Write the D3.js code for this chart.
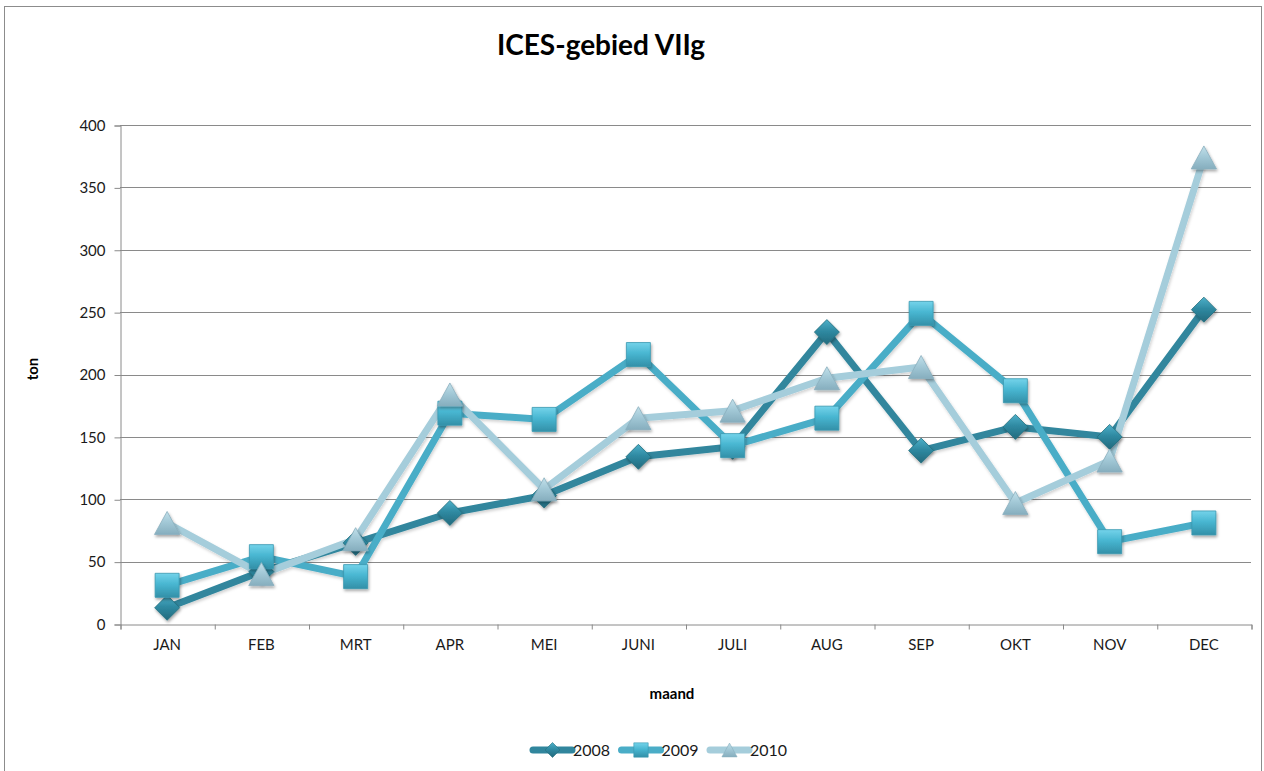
<!DOCTYPE html>
<html>
<head>
<meta charset="utf-8">
<script src="https://cdn.jsdelivr.net/npm/d3@7"></script>
<style>
  html, body { margin: 0; padding: 0; background: #ffffff; }
  svg { display: block; font-family: Lato, "Open Sans", sans-serif; }
</style>
</head>
<body>
<svg id="chart" width="1264" height="771"></svg>
<script>
// Monthly catch (ton) in ICES area VIIg
const months = ["JAN", "FEB", "MRT", "APR", "MEI", "JUNI", "JULI", "AUG", "SEP", "OKT", "NOV", "DEC"];
const values2008 = [13, 42, 65, 89, 103, 134, 142, 234, 139, 158, 150, 252];
const values2009 = [31, 54, 38, 169, 164, 216, 143, 165, 249, 187, 66, 81];
const values2010 = [81, 40, 68, 184, 108, 165, 171, 197, 206, 97, 131, 374];
const seriesNames = ["2008", "2009", "2010"];
const yTicks = [0, 50, 100, 150, 200, 250, 300, 350, 400];

const series = [
  { name: seriesNames[0], values: values2008, line: "#31869d", shape: "diamond", grad: ["#4db0c9", "#2f8aa2", "#236a7d"], stroke: "#25707f" },
  { name: seriesNames[1], values: values2009, line: "#4aadc7", shape: "square", grad: ["#74d3ea", "#48b6d1", "#3390a8"], stroke: "#3a98b0" },
  { name: seriesNames[2], values: values2010, line: "#a5cddb", shape: "triangle", grad: ["#c2e0ea", "#a3c9d7", "#86aebe"], stroke: "#8aaebe" }
];

const svg = d3.select("#chart");
const plot = { left: 120, right: 1251, top: 125, bottom: 624 };

const x = d3.scaleBand().domain(months).range([plot.left, plot.right]).padding(0);
const xEdge = d3.scaleLinear().domain([0, months.length]).range([plot.left, plot.right]);
const y = d3.scaleLinear().domain([0, 400]).range([plot.bottom, plot.top]);

// Outer chart frame
svg.append("rect")
  .attr("x", 4.5).attr("y", 6.5).attr("width", 1257).attr("height", 800)
  .attr("fill", "#ffffff").attr("stroke", "#8c8c8c").attr("stroke-width", 1);

const defs = svg.append("defs");
const shadow = defs.append("filter").attr("id", "shadow")
  .attr("x", "-50%").attr("y", "-50%").attr("width", "200%").attr("height", "200%");
shadow.append("feDropShadow").attr("dx", 1).attr("dy", 2).attr("stdDeviation", 1.6)
  .attr("flood-color", "#000").attr("flood-opacity", 0.35);
const lineShadow = defs.append("filter").attr("id", "lineShadow")
  .attr("x", "-10%").attr("y", "-10%").attr("width", "120%").attr("height", "120%");
lineShadow.append("feDropShadow").attr("dx", 1).attr("dy", 2).attr("stdDeviation", 1.5)
  .attr("flood-color", "#000").attr("flood-opacity", 0.18);

series.forEach((s, i) => {
  const g = defs.append("linearGradient").attr("id", "grad" + i)
    .attr("x1", 0).attr("y1", 0).attr("x2", 0).attr("y2", 1);
  g.append("stop").attr("offset", "0%").attr("stop-color", s.grad[0]);
  g.append("stop").attr("offset", "45%").attr("stop-color", s.grad[1]);
  g.append("stop").attr("offset", "100%").attr("stop-color", s.grad[2]);
});

// Horizontal gridlines
svg.append("g").selectAll("line").data(yTicks.filter(d => d > 0)).join("line")
  .attr("x1", plot.left).attr("x2", plot.right)
  .attr("y1", d => Math.round(y(d)) + 0.5).attr("y2", d => Math.round(y(d)) + 0.5)
  .attr("stroke", "#8a8a8a").attr("stroke-width", 1);

// Y axis
const yAxis = svg.append("g").attr("transform", `translate(${plot.left + 0.5},0.5)`)
  .call(d3.axisLeft(y).tickValues(yTicks).tickSize(6).tickPadding(9).tickFormat(d3.format("d")));
yAxis.select(".domain").attr("stroke", "#8a8a8a");
yAxis.selectAll(".tick line").attr("stroke", "#8a8a8a");
yAxis.selectAll("text").attr("fill", "#1a1a1a").style("font-size", "15px").style("font-family", "Lato, sans-serif");

// X axis: category boundary ticks and centred labels
const xTicks = svg.append("g").attr("transform", `translate(0.5,${plot.bottom + 0.5})`)
  .call(d3.axisBottom(xEdge).tickValues(d3.range(months.length + 1)).tickSize(5).tickFormat(""));
xTicks.select(".domain").attr("stroke", "#8a8a8a");
xTicks.selectAll(".tick line").attr("stroke", "#8a8a8a");
const xLabels = svg.append("g").attr("transform", `translate(0,${plot.bottom})`)
  .call(d3.axisBottom(x).tickSize(0).tickPadding(15));
xLabels.select(".domain").remove();
xLabels.selectAll("text").attr("fill", "#1a1a1a").style("font-size", "15px").style("font-family", "Lato, sans-serif");

// Titles
svg.append("text").attr("x", 601).attr("y", 55).attr("text-anchor", "middle")
  .style("font-size", "28px").style("font-weight", "bold").attr("fill", "#000")
  .text("ICES-gebied VIIg");
svg.append("text").attr("transform", "translate(38,369) rotate(-90)").attr("text-anchor", "middle")
  .style("font-size", "15px").style("font-weight", "bold").attr("fill", "#000").text("ton");
svg.append("text").attr("x", 672).attr("y", 699).attr("text-anchor", "middle")
  .style("font-size", "15px").style("font-weight", "bold").attr("fill", "#000").text("maand");

function markerPath(shape, r) {
  if (shape === "diamond") return `M0,${-r}L${r},0L0,${r}L${-r},0Z`;
  if (shape === "square") return `M${-r},${-r}H${r}V${r}H${-r}Z`;
  return `M0,${-r}L${r * 1.1},${r}L${-r * 1.1},${r}Z`;
}

const cx = d => x(d) + x.bandwidth() / 2;
const line = d3.line().x(d => cx(d.month)).y(d => y(d.value));

// Lines first, then markers on top
const linesG = svg.append("g").attr("filter", "url(#lineShadow)");
series.forEach(s => {
  const pts = months.map((m, j) => ({ month: m, value: s.values[j] }));
  linesG.append("path").datum(pts)
    .attr("d", line).attr("fill", "none")
    .attr("stroke", s.line).attr("stroke-width", 7)
    .attr("stroke-linejoin", "round").attr("stroke-linecap", "round");
});

const sizes = { diamond: 12.5, square: 12, triangle: 11.5 };
series.forEach((s, i) => {
  const pts = months.map((m, j) => ({ month: m, value: s.values[j] }));
  svg.append("g").attr("filter", "url(#shadow)")
    .selectAll("path").data(pts).join("path")
    .attr("transform", d => `translate(${cx(d.month)},${y(d.value)})`)
    .attr("d", markerPath(s.shape, sizes[s.shape]))
    .attr("fill", `url(#grad${i})`).attr("stroke", s.stroke).attr("stroke-width", 0.8);
});

// Legend
const legendStart = 533, legendStep = 88.5, legendY = 750;
const legend = svg.append("g");
series.forEach((s, i) => {
  const lx = legendStart + i * legendStep;
  const item = legend.append("g").attr("transform", `translate(${lx},${legendY})`);
  item.append("line").attr("x1", 0).attr("x2", 39).attr("y1", 0).attr("y2", 0)
    .attr("stroke", s.line).attr("stroke-width", 7).attr("stroke-linecap", "round");
  item.append("path").attr("transform", "translate(19.5,0)")
    .attr("d", markerPath(s.shape, sizes[s.shape] * 0.6))
    .attr("fill", `url(#grad${i})`).attr("stroke", s.stroke).attr("stroke-width", 0.6);
  item.append("text").attr("x", 40).attr("y", 6)
    .style("font-size", "16px").attr("fill", "#1a1a1a").text(s.name);
});
</script>
</body>
</html>
